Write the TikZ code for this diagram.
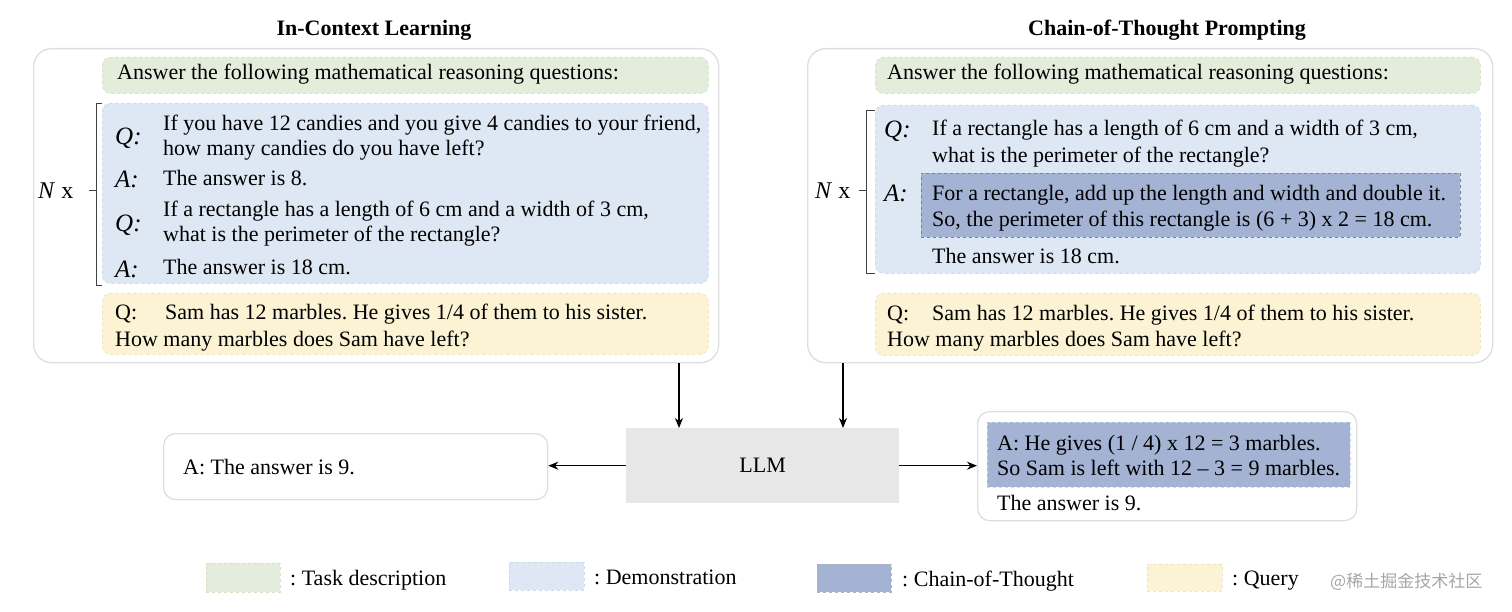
\documentclass[tikz,border=0pt]{standalone}
\usepackage{fontspec}
\setmainfont{Liberation Serif}
\newfontfamily\cjkfont{Noto Sans CJK SC}
\usetikzlibrary{arrows.meta,calc}
\definecolor{taskfill}{RGB}{228,237,219}
\definecolor{taskline}{RGB}{212,226,200}
\definecolor{demofill}{RGB}{222,232,244}
\definecolor{demoline}{RGB}{204,218,236}
\definecolor{cotfill}{RGB}{164,179,212}
\definecolor{cotline}{RGB}{120,130,150}
\definecolor{queryfill}{RGB}{251,243,212}
\definecolor{queryline}{RGB}{240,228,190}
\definecolor{llmfill}{RGB}{231,231,231}
\definecolor{outerline}{RGB}{222,222,222}
\frenchspacing
\begin{document}
\begin{tikzpicture}[x=1pt,y=-1pt,
  base/.style={rectangle,inner sep=0pt,anchor=north west},
  outerbox/.style={base,draw=outerline,line width=1.3pt,fill=white,rounded corners=18pt},
  ansbox/.style={base,draw=outerline,line width=1.3pt,fill=white,rounded corners=12pt},
  taskbox/.style={base,fill=taskfill,draw=taskline,dashed,line width=0.8pt,rounded corners=8pt},
  demobox/.style={base,fill=demofill,draw=demoline,dashed,line width=0.8pt,rounded corners=8pt},
  cotbox/.style={base,fill=cotfill,draw=cotline,dashed,line width=0.8pt},
  cotboxb/.style={base,fill=cotfill,draw=demoline,dashed,line width=0.8pt},
  querybox/.style={base,fill=queryfill,draw=queryline,dashed,line width=0.8pt,rounded corners=8pt},
  llmbox/.style={base,fill=llmfill,font=\fontsize{22}{26}\selectfont},
  txt/.style={anchor=base west,inner sep=0pt,font=\fontsize{22}{26}\selectfont},
  lbl/.style={anchor=base west,inner sep=0pt,font=\fontsize{25}{28}\selectfont\itshape},
  ttl/.style={inner sep=0pt,font=\fontsize{22}{26}\selectfont\bfseries},
  arr/.style={line width=1.4pt,-{Stealth[length=10pt,width=8pt]}},
  brk/.style={line width=0.8pt,draw=black!75}
]
\useasboundingbox (0,0) rectangle (1512,612);

% ---------- titles ----------
\node[ttl] (t1) at (374,30) {In-Context Learning};
\node[ttl] (t2) at (1167,30) {Chain-of-Thought Prompting};

% ---------- left panel ----------
\node[outerbox,minimum width=685pt,minimum height=314pt] (lout) at (33,48) {};
\node[taskbox,minimum width=606pt,minimum height=36pt] (ltask) at (102,57) {};
\node[demobox,minimum width=606pt,minimum height=180pt] (ldemo) at (102,103) {};
\node[querybox,minimum width=606pt,minimum height=61pt] (lquery) at (102,293) {};

\node[txt] (l1) at (117,80) {Answer the following mathematical reasoning questions:};
\node[lbl] (lq1) at (115,145) {Q:};
\node[txt] (lq1a) at (163,131) {If you have 12 candies and you give 4 candies to your friend,};
\node[txt] (lq1b) at (163,156) {how many candies do you have left?};
\node[lbl] (la1) at (115,188) {A:};
\node[txt] (la1a) at (163,186) {The answer is 8.};
\node[lbl] (lq2) at (115,232) {Q:};
\node[txt] (lq2a) at (163,217) {If a rectangle has a length of 6 cm and a width of 3 cm,};
\node[txt] (lq2b) at (163,242) {what is the perimeter of the rectangle?};
\node[lbl] (la2) at (115,277) {A:};
\node[txt] (la2a) at (163,275) {The answer is 18 cm.};
\node[txt] (lqq) at (115,319) {Q:};
\node[txt] (lqqa) at (165,319) {Sam has 12 marbles. He gives 1/4 of them to his sister.};
\node[txt] (lqqb) at (115,346) {How many marbles does Sam have left?};

\draw[brk] (102,103) -- (96,103) -- (96,285) -- (102,285);
\draw[brk] (96,190) -- (89,190);
\node[txt,font=\fontsize{24}{28}\selectfont] (lN) at (38,199) {\textit{N} x};

% ---------- right panel ----------
\node[outerbox,minimum width=685pt,minimum height=314pt] (rout) at (807,48) {};
\node[taskbox,minimum width=605pt,minimum height=36pt] (rtask) at (875,57) {};
\node[demobox,minimum width=605pt,minimum height=168pt] (rdemo) at (875,105) {};
\node[cotbox,minimum width=539pt,minimum height=64pt] (rcot) at (921,173) {};
\node[querybox,minimum width=605pt,minimum height=62pt] (rquery) at (875,293) {};

\node[txt] (r1) at (887,80) {Answer the following mathematical reasoning questions:};
\node[lbl] (rq) at (884,138) {Q:};
\node[txt] (rqa) at (932,136) {If a rectangle has a length of 6 cm and a width of 3 cm,};
\node[txt] (rqb) at (932,163) {what is the perimeter of the rectangle?};
\node[lbl] (ra) at (884,202) {A:};
\node[txt] (raa) at (932,201) {For a rectangle, add up the length and width and double it.};
\node[txt] (rab) at (932,227) {So, the perimeter of this rectangle is (6 + 3) x 2 = 18 cm.};
\node[txt] (rac) at (932,264) {The answer is 18 cm.};
\node[txt] (rqq) at (887,320) {Q:};
\node[txt] (rqqa) at (932,320) {Sam has 12 marbles. He gives 1/4 of them to his sister.};
\node[txt] (rqqb) at (887,346) {How many marbles does Sam have left?};

\draw[brk] (875,110) -- (866,110) -- (866,273) -- (875,273);
\draw[brk] (866,190) -- (859,190);
\node[txt,font=\fontsize{24}{28}\selectfont] (rN) at (815,199) {\textit{N} x};

% ---------- bottom ----------
\node[llmbox,minimum width=273pt,minimum height=75pt] (llm) at (626,428) {LLM};
\node[ansbox,minimum width=384pt,minimum height=66pt] (lans) at (163,433) {};
\node[txt] (lanst) at (183,474) {A: The answer is 9.};
\node[ansbox,minimum width=379pt,minimum height=109pt] (rans) at (977,411) {};
\node[cotboxb,minimum width=363pt,minimum height=65pt] (rcot2) at (987,422) {};
\node[txt] (ransa) at (997,450) {A: He gives (1 / 4) x 12 = 3 marbles.};
\node[txt] (ransb) at (997,475) {So Sam is left with 12 – 3 = 9 marbles.};
\node[txt] (ransc) at (997,510) {The answer is 9.};

\coordinate (ax1) at (679,0);
\coordinate (ax2) at (843,0);
\draw[arr] (lout.south -| ax1) -- (llm.north -| ax1);
\draw[arr] (rout.south -| ax2) -- (llm.north -| ax2);
\draw[arr] (llm.west) -- (llm.west -| lans.east);
\draw[arr] (llm.east) -- (llm.east -| rans.west);

% ---------- legend ----------
\node[base,fill=taskfill,draw=taskline,dashed,line width=0.8pt,minimum width=74pt,minimum height=29pt] (lg1) at (206,563) {};
\node[txt] (lg1t) at (290,585) {: Task description};
\node[base,fill=demofill,draw=demoline,dashed,line width=0.8pt,minimum width=75pt,minimum height=28pt] (lg2) at (509,562) {};
\node[txt] (lg2t) at (594,584) {: Demonstration};
\node[base,fill=cotfill,draw=cotline!60,dashed,line width=0.8pt,minimum width=74pt,minimum height=28pt] (lg3) at (817,564) {};
\node[txt] (lg3t) at (902,586) {: Chain-of-Thought};
\node[base,fill=queryfill,draw=queryline,dashed,line width=0.8pt,minimum width=75pt,minimum height=27pt] (lg4) at (1147,564) {};
\node[txt] (lg4t) at (1232,585) {: Query};
\node[anchor=base west,inner sep=0pt,text=black!35,font=\cjkfont\fontsize{17}{20}\selectfont] (wm) at (1330,587) {@稀土掘金技术社区};
\end{tikzpicture}
\end{document}
